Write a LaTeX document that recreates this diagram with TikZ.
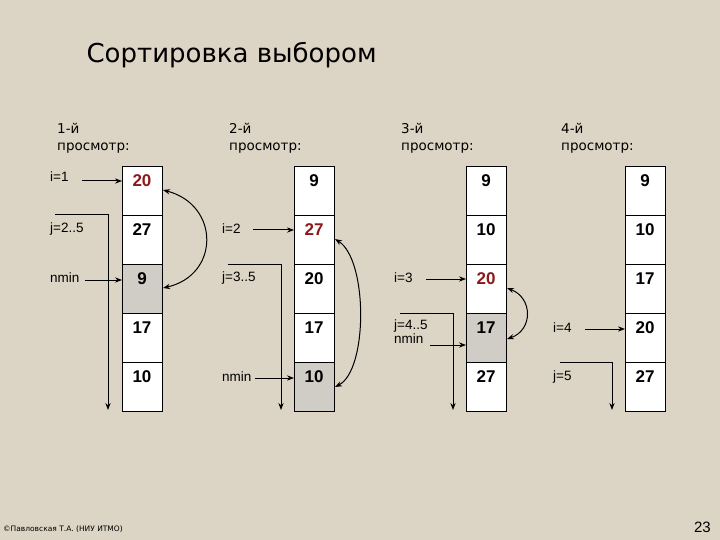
\documentclass[tikz,border=0pt]{standalone}
\usepackage{fontspec}
\setmainfont{DejaVu Sans}
\newfontfamily\arl{Liberation Sans}
\usetikzlibrary{arrows.meta}
\definecolor{bg}{HTML}{DCD4C4}
\definecolor{dred}{HTML}{8B1A1A}
\definecolor{gcell}{HTML}{D0CCC6}
\tikzset{cell/.style={draw=black,fill=white,minimum width=40pt,minimum height=49pt,inner sep=0pt,anchor=north west},
 gray/.style={cell,fill=gcell},
 num/.style={font=\arl\bfseries\fontsize{17}{17}\selectfont,anchor=center},
 lab/.style={font=\arl\fontsize{13.5}{14}\selectfont,anchor=west,inner sep=0pt},
 hdr/.style={font=\fontsize{13.5}{17}\selectfont,align=left,anchor=north west,inner sep=0pt},
 arr/.style={-{Stealth[length=7pt]},line width=1pt},
 swap/.style={{Stealth[length=7pt]}-{Stealth[length=7pt]},line width=1pt}}
\begin{document}
\begin{tikzpicture}[x=1pt,y=-1pt]
\fill[bg] (0,0) rectangle (720,540);
\useasboundingbox (0,0) rectangle (720,540);
\node[font=\fontsize{26}{28}\selectfont,anchor=west] (title) at (83,55) {Сортировка выбором};
\node[hdr] (h1) at (57,123) {1-й\\просмотр:};
\node[hdr] (h2) at (229,123) {2-й\\просмотр:};
\node[hdr] (h3) at (401,123) {3-й\\просмотр:};
\node[hdr] (h4) at (561,123) {4-й\\просмотр:};
\foreach \c/\x/\g/\r/\vals in {1/122/3/1/{20,27,9,17,10},2/294/5/2/{9,27,20,17,10},3/466/4/3/{9,10,20,17,27},4/625/0/0/{9,10,17,20,27}}{
  \foreach \v [count=\k] in \vals {
    \ifnum\k=\g \node[gray] (c\c-\k) at (\x,{166+49*(\k-1)}) {};
    \else \node[cell] (c\c-\k) at (\x,{166+49*(\k-1)}) {}; \fi
    \ifnum\k=\r
      \node[num,text=dred] (n\c-\k) at (\x+20,{181+49*(\k-1)}) {\v};
    \else
      \node[num] (n\c-\k) at (\x+20,{181+49*(\k-1)}) {\v};
    \fi
  }
}
% column 1
\node[lab] (i1) at (50,177) {i=1};
\draw[arr] (82,181) -- (c1-1.west|-0,181);
\node[lab] (j1) at (50,229) {j=2..5};
\coordinate (j1a) at (55,215); \coordinate (j1b) at (108,215); \coordinate (j1c) at (108,410);
\draw[arr] (j1a) -- (j1b) -- (j1c);
\node[lab] (m1) at (50,278) {nmin};
\draw[arr] (85,280) -- (c1-3.west|-0,280);
\draw[swap] (163,190) .. controls (220,205) and (220,275) .. (163,288);
% column 2
\node[lab] (i2) at (222,229) {i=2};
\draw[arr] (253,230) -- (c2-2.west|-0,230);
\node[lab] (j2) at (222,278) {j=3..5};
\coordinate (j2a) at (228,264); \coordinate (j2b) at (281,264); \coordinate (j2c) at (281,410);
\draw[arr] (j2a) -- (j2b) -- (j2c);
\node[lab] (m2) at (222,377) {nmin};
\draw[arr] (255,378) -- (c2-5.west|-0,378);
\draw[swap] (335,239) .. controls (368,260) and (368,370) .. (335,387);
% column 3
\node[lab] (i3) at (394,278) {i=3};
\draw[arr] (426,279) -- (c3-3.west|-0,279);
\node[lab,align=left,anchor=north west] (j3) at (394,320) {j=4..5\\nmin};
\coordinate (j3a) at (400,313); \coordinate (j3b) at (453,313); \coordinate (j3c) at (453,410);
\draw[arr] (j3a) -- (j3b) -- (j3c);
\draw[arr] (430,345) -- (c3-4.west|-0,345);
\draw[swap] (507,288) .. controls (533,298) and (533,330) .. (507,339);
% column 4
\node[lab] (i4) at (553,328) {i=4};
\draw[arr] (585,329) -- (c4-4.west|-0,329);
\node[lab] (j4) at (553,377) {j=5};
\coordinate (j4a) at (560,362); \coordinate (j4b) at (612,362); \coordinate (j4c) at (612,410);
\draw[arr] (j4a) -- (j4b) -- (j4c);
\node[font=\fontsize{7.5}{8}\selectfont,anchor=west,inner sep=0pt] (cp) at (3,529) {©Павловская Т.А. (НИУ ИТМО)};
\node[font=\arl\fontsize{15}{15}\selectfont,anchor=east,inner sep=0pt] (pg) at (711,527) {23};
\end{tikzpicture}
\end{document}
